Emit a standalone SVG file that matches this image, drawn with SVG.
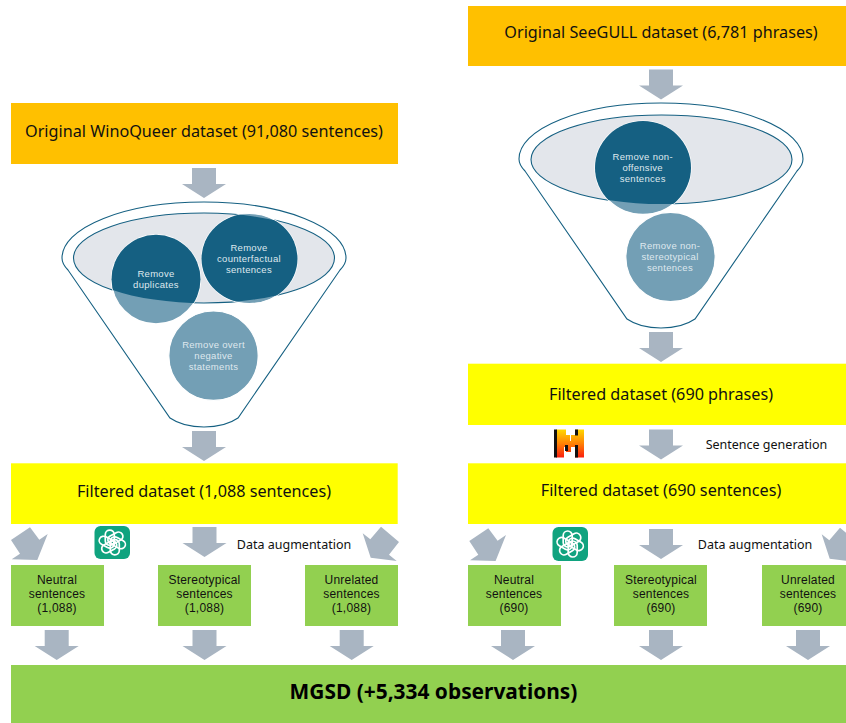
<svg xmlns="http://www.w3.org/2000/svg" xmlns:xlink="http://www.w3.org/1999/xlink" width="846" height="723" viewBox="0 0 846 723">
<style>
text{font-family:"Noto Sans","Open Sans","Liberation Sans",sans-serif;text-anchor:middle;fill:#111}
.orange{fill:#ffc000}.yellow{fill:#ffff00}.green{fill:#92d050}
.t1{font-size:16.2px}.t2{font-family:"Liberation Sans",Arial,sans-serif;font-size:12px;letter-spacing:.2px}.t3{font-size:12.5px}
.t4{font-family:"Liberation Sans",Arial,sans-serif;font-size:9.5px;letter-spacing:.3px;fill:#dfe8ee}
.t5{font-size:20.9px;font-weight:700;fill:#000}
.arrow{fill:#a9b5c2}
.funnel{fill:none;stroke:#156082;stroke-width:1.1}
.lens{fill:#e3e6eb;stroke:#156082;stroke-width:1.1}
.light{fill:#739fb5;stroke:#fff;stroke-width:1.2}
.dark{fill:#156082}
.teal{fill:#10a37f}
.knot{fill:none;stroke:#fff;stroke-width:1.7}
</style>
<defs>
<path id="down" d="M-12,0H12V16H22L0,30L-22,16H-12Z"/>
<path id="funnelShape" d="M68,270Q62,264 62,258A142,56 0 0 1 346,258Q346,264 340,270L238,418Q225,427 204,427Q183,427 170,418Z"/>
<clipPath id="lensL"><ellipse cx="204" cy="258" rx="130.5" ry="45"/></clipPath>
<clipPath id="lensR"><ellipse cx="661.5" cy="159.5" rx="130.5" ry="44.5"/></clipPath>
<g id="gptKnot">
<rect x="-7" y="-13" width="9" height="16" rx="4.5" class="knot"/>
<rect x="-7" y="-13" width="9" height="16" rx="4.5" class="knot" transform="rotate(60)"/>
<rect x="-7" y="-13" width="9" height="16" rx="4.5" class="knot" transform="rotate(120)"/>
<rect x="-7" y="-13" width="9" height="16" rx="4.5" class="knot" transform="rotate(180)"/>
<rect x="-7" y="-13" width="9" height="16" rx="4.5" class="knot" transform="rotate(240)"/>
<rect x="-7" y="-13" width="9" height="16" rx="4.5" class="knot" transform="rotate(300)"/>
</g>
<linearGradient id="mistralGrad" x1="0" y1="0" x2="0" y2="1">
<stop offset="0" stop-color="#ffd800"/><stop offset="0.5" stop-color="#ff8205"/><stop offset="1" stop-color="#fa1e0e"/>
</linearGradient>
</defs>

<g id="connectors" class="arrow">
<use xlink:href="#down" href="#down" x="204" y="168"/>
<use xlink:href="#down" href="#down" x="204" y="431"/>
<polygon points="30,527.3 39.3,539.7 47.7,534 37.3,560 11.7,559.3 20,553.7 11,540"/>
<use xlink:href="#down" href="#down" x="204.5" y="527"/>
<polygon points="381,526.7 399,542 389,554.7 396.7,561 370.7,557.7 362.7,533.3 370.3,539.3"/>
<use xlink:href="#down" href="#down" x="56.7" y="630"/>
<use xlink:href="#down" href="#down" x="204.5" y="630"/>
<use xlink:href="#down" href="#down" x="351.7" y="630"/>
<use xlink:href="#down" href="#down" x="661" y="69.5"/>
<use xlink:href="#down" href="#down" x="661" y="332"/>
<use xlink:href="#down" href="#down" x="661" y="429.5"/>
<use xlink:href="#down" href="#down" x="661" y="529"/>
<polygon points="488.3,528.3 497.6,540.7 506,535 495.6,561 470,560.3 478.3,554.7 469.3,541"/>
<polygon points="840,527.7 858,543 848,555.7 855.7,562 829.7,558.7 821.7,534.3 829.3,540.3"/>
<use xlink:href="#down" href="#down" x="513" y="630"/>
<use xlink:href="#down" href="#down" x="661" y="630"/>
<use xlink:href="#down" href="#down" x="808" y="630"/>
</g>

<g id="winoqueer-source"><rect class="orange" x="11" y="103" width="387" height="61"/><text class="t1" x="204" y="136.5">Original WinoQueer dataset (91,080 sentences)</text></g>
<g id="seegull-source"><rect class="orange" x="468" y="6" width="378" height="60"/><text class="t1" x="661" y="38">Original SeeGULL dataset (6,781 phrases)</text></g>

<g id="funnel-left">
<use xlink:href="#funnelShape" href="#funnelShape" class="funnel"/>
<ellipse class="lens" cx="204" cy="258" rx="130.5" ry="45"/>
<g id="remove-duplicates">
<circle class="light" cx="156" cy="279.3" r="44.5"/>
<circle class="dark" cx="156" cy="279.3" r="44.5" clip-path="url(#lensL)"/>
<text class="t4" x="156" y="277">Remove</text><text class="t4" x="156" y="288">duplicates</text>
</g>
<g id="remove-counterfactual">
<ellipse class="light" cx="249.5" cy="258.5" rx="48" ry="45"/>
<ellipse class="dark" cx="249.5" cy="258.5" rx="48" ry="45" clip-path="url(#lensL)"/>
<text class="t4" x="249" y="251">Remove</text><text class="t4" x="249" y="262">counterfactual</text><text class="t4" x="249" y="273">sentences</text>
</g>
<g id="remove-overt">
<circle class="light" cx="213.5" cy="355.7" r="44.7"/>
<text class="t4" x="213.5" y="348.3">Remove overt</text><text class="t4" x="213.5" y="359.3">negative</text><text class="t4" x="213.5" y="370.3">statements</text>
</g>
</g>

<g id="funnel-right">
<use xlink:href="#funnelShape" href="#funnelShape" class="funnel" transform="translate(457,-99)"/>
<ellipse class="lens" cx="661.5" cy="159.5" rx="130.5" ry="44.5"/>
<g id="remove-non-offensive">
<ellipse class="light" cx="643" cy="167.7" rx="48" ry="46.7"/>
<ellipse class="dark" cx="643" cy="167.7" rx="48" ry="46.7" clip-path="url(#lensR)"/>
<text class="t4" x="642.7" y="160">Remove non-</text><text class="t4" x="642.7" y="171">offensive</text><text class="t4" x="642.7" y="182">sentences</text>
</g>
<g id="remove-non-stereotypical">
<circle class="light" cx="670.5" cy="257" r="44.7"/>
<text class="t4" x="670" y="249">Remove non-</text><text class="t4" x="670" y="260">stereotypical</text><text class="t4" x="670" y="271">sentences</text>
</g>
</g>

<g id="filtered-phrases"><rect class="yellow" x="468" y="363.7" width="378" height="61.3"/><text class="t1" x="661" y="399.5">Filtered dataset (690 phrases)</text></g>
<g id="filtered-sentences-right"><rect class="yellow" x="468" y="463.3" width="378" height="60.7"/><text class="t1" x="661" y="496">Filtered dataset (690 sentences)</text></g>
<g id="filtered-sentences-left"><rect class="yellow" x="11" y="463.3" width="386.7" height="60.7"/><text class="t1" x="204" y="497">Filtered dataset (1,088 sentences)</text></g>

<g id="neutral-left"><rect class="green" x="11" y="565" width="93" height="61"/><text class="t2" x="57" y="584">Neutral</text><text class="t2" x="57" y="598">sentences</text><text class="t2" x="57" y="612">(1,088)</text></g>
<g id="stereo-left"><rect class="green" x="158" y="565" width="93" height="61"/><text class="t2" x="204.5" y="584">Stereotypical</text><text class="t2" x="204.5" y="598">sentences</text><text class="t2" x="204.5" y="612">(1,088)</text></g>
<g id="unrelated-left"><rect class="green" x="305" y="565" width="93" height="61"/><text class="t2" x="351.5" y="584">Unrelated</text><text class="t2" x="351.5" y="598">sentences</text><text class="t2" x="351.5" y="612">(1,088)</text></g>
<g id="neutral-right"><rect class="green" x="468" y="565" width="93" height="61"/><text class="t2" x="514" y="584">Neutral</text><text class="t2" x="514" y="598">sentences</text><text class="t2" x="514" y="612">(690)</text></g>
<g id="stereo-right"><rect class="green" x="614" y="565" width="93" height="61"/><text class="t2" x="661" y="584">Stereotypical</text><text class="t2" x="661" y="598">sentences</text><text class="t2" x="661" y="612">(690)</text></g>
<g id="unrelated-right"><rect class="green" x="762" y="565" width="93" height="61"/><text class="t2" x="808" y="584">Unrelated</text><text class="t2" x="808" y="598">sentences</text><text class="t2" x="808" y="612">(690)</text></g>

<g id="mgsd"><rect class="green" x="11" y="665" width="835" height="58"/><text class="t5" x="433.5" y="699">MGSD (+5,334 observations)</text></g>

<g id="label-augmentation-left"><text class="t3" x="294" y="549">Data augmentation</text></g>
<g id="label-augmentation-right"><text class="t3" x="755" y="549">Data augmentation</text></g>
<g id="label-generation"><text class="t3" x="766.5" y="449">Sentence generation</text></g>

<g id="chatgpt-left"><rect class="teal" x="94.5" y="526" width="35.5" height="33" rx="6"/><use xlink:href="#gptKnot" href="#gptKnot" transform="translate(112.3,542.5) scale(1,.95)"/></g>
<g id="chatgpt-right"><rect class="teal" x="552.5" y="527" width="35.5" height="34" rx="6"/><use xlink:href="#gptKnot" href="#gptKnot" transform="translate(570.2,544)"/></g>
<g id="mistral">
<path fill="url(#mistralGrad)" d="M556,429.5H566V435H570V441H571V435H575V429.5H584V457.5H575V447H571V452H566V447H564V457.5H556Z"/>
<rect x="554" y="429.5" width="3" height="28" fill="#111"/>
<rect x="565" y="445" width="3" height="6" fill="#111"/>
<rect x="575" y="429.5" width="3" height="6" fill="#111"/>
<rect x="575" y="445" width="3" height="12.5" fill="#111"/>
</g>
</svg>
